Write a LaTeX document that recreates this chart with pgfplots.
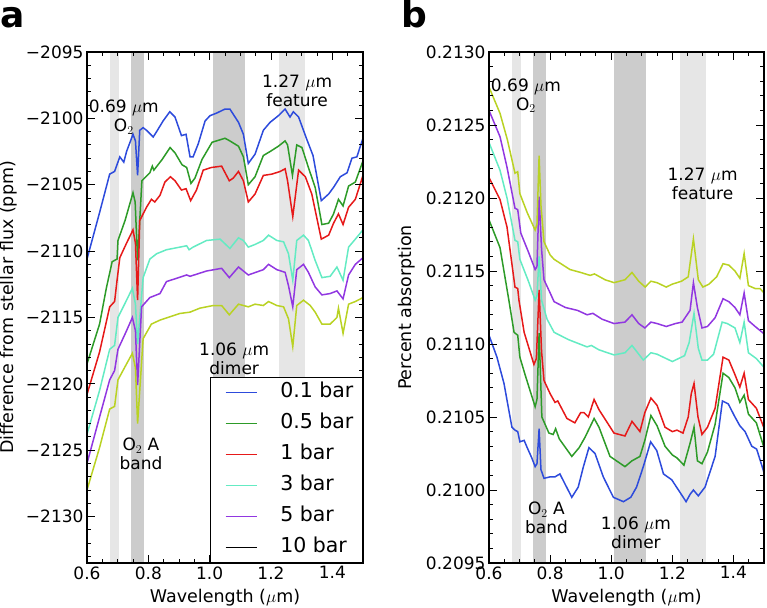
\documentclass[border=0pt]{standalone}
\usepackage{fontspec}
\setmainfont{DejaVu Sans}
\usepackage{pgfplots}
\pgfplotsset{compat=1.18}

\definecolor{bar01}{RGB}{45,75,220}
\definecolor{bar05}{RGB}{45,155,40}
\definecolor{bar1}{RGB}{230,25,25}
\definecolor{bar3}{RGB}{100,235,195}
\definecolor{bar5}{RGB}{145,55,225}
\definecolor{bar10}{RGB}{185,210,35}
\definecolor{bandlight}{RGB}{230,230,230}
\definecolor{banddark}{RGB}{204,204,204}

\newcommand\tickfont{\fontsize{17}{20}\selectfont}
\newcommand\labfont{\fontsize{17.5}{21}\selectfont}
\newcommand\annfont{\fontsize{17}{19}\selectfont}
\newcommand\legfont{\fontsize{20.5}{24}\selectfont}

\pgfplotsset{
  panel/.style={
    anchor=south west, scale only axis, height=511pt,
    xmin=0.6, xmax=1.5,
    xtick={0.6,0.8,1.0,1.2,1.4}, xticklabels={0.6,0.8,1.0,1.2,1.4},
    minor xtick={0.65,0.7,0.75,0.85,0.9,0.95,1.05,1.1,1.15,1.25,1.3,1.35,1.45},
    tick align=inside, major tick length=8pt, minor tick length=4pt,
    tick style={black, line width=0.9pt},
    axis line style={line width=1.2pt},
    tick label style={font=\tickfont},
    label style={font=\labfont},
    xlabel={Wavelength ($\mu$m)},
    xlabel style={at={(axis description cs:0.5,-0.077)}, anchor=base},
    axis on top,
    every axis plot/.append style={line width=1.5pt, no markers},
  },
}

\begin{document}
\begin{tikzpicture}
\useasboundingbox (0pt,0pt) rectangle (767pt,607pt);

\node[anchor=base west, inner sep=0pt, font=\fontsize{36}{40}\selectfont\bfseries] at (0pt,579pt) {a};
\node[anchor=base west, inner sep=0pt, font=\fontsize{36}{40}\selectfont\bfseries] at (401pt,579pt) {b};

% ---------------- panel a ----------------
\begin{axis}[panel,
  at={(87pt,44pt)}, width=276pt,
  ymin=-2133.5, ymax=-2095,
  ytick={-2130,-2125,-2120,-2115,-2110,-2105,-2100,-2095},
  yticklabels={−2130,−2125,−2120,−2115,−2110,−2105,−2100,−2095},
  minor ytick={-2133,-2132,...,-2096},
  ylabel={Difference from stellar flux (ppm)},
  ylabel style={at={(axis description cs:-0.283,0.5)}, anchor=center},
  legend style={at={(1,0)}, anchor=south east, draw=black, line width=1.2pt,
    inner xsep=9pt, inner ysep=6pt, row sep=13pt, column sep=23pt,
    nodes={font=\legfont, inner sep=0pt, text height=14pt, text depth=4pt}},
  legend cell align=left,
  legend image code/.code={\path (0pt,0pt); \draw[#1, line width=1.5pt] (5pt,0pt) -- (36pt,0pt);},
]
\fill[bandlight] (axis cs:0.675,-2140) rectangle (axis cs:0.705,-2090);
\fill[banddark] (axis cs:0.745,-2140) rectangle (axis cs:0.785,-2090);
\fill[banddark] (axis cs:1.01,-2140) rectangle (axis cs:1.115,-2090);
\fill[bandlight] (axis cs:1.225,-2140) rectangle (axis cs:1.31,-2090);

\addplot[bar01] coordinates {
(0.600,-2110.6) (0.641,-2107.1) (0.674,-2104.2) (0.690,-2104.0) (0.707,-2102.9)
(0.720,-2103.3) (0.729,-2102.5) (0.750,-2101.2) (0.758,-2101.7) (0.765,-2104.3)
(0.772,-2100.9) (0.783,-2100.7) (0.794,-2100.9) (0.816,-2101.4) (0.827,-2101.0)
(0.848,-2100.2) (0.870,-2099.5) (0.887,-2099.9) (0.908,-2101.3) (0.923,-2101.2)
(0.936,-2102.9) (0.946,-2102.9) (0.963,-2101.9) (0.985,-2100.2) (1.001,-2099.8)
(1.023,-2099.6) (1.050,-2099.3) (1.066,-2099.3) (1.094,-2100.3) (1.110,-2101.2)
(1.126,-2103.4) (1.148,-2102.7) (1.175,-2100.9) (1.197,-2100.3) (1.224,-2099.8)
(1.246,-2099.3) (1.262,-2099.9) (1.273,-2099.5) (1.290,-2099.9) (1.317,-2101.6)
(1.337,-2102.8) (1.364,-2106.2) (1.388,-2105.7) (1.404,-2105.2) (1.426,-2104.4)
(1.448,-2104.1) (1.464,-2103.0) (1.480,-2102.9) (1.500,-2101.5)};
\addlegendentry{0.1 bar}

\addplot[bar05] coordinates {
(0.600,-2118.5) (0.641,-2115.5) (0.663,-2112.8) (0.682,-2110.8) (0.698,-2110.6)
(0.701,-2109.2) (0.724,-2107.7) (0.750,-2105.6) (0.757,-2106.3) (0.765,-2110.7)
(0.779,-2104.7) (0.805,-2104.1) (0.813,-2103.6) (0.818,-2103.9) (0.845,-2103.1)
(0.871,-2102.2) (0.887,-2102.6) (0.910,-2103.5) (0.925,-2103.7) (0.939,-2104.9)
(0.952,-2104.5) (0.975,-2103.1) (1.008,-2101.8) (1.050,-2101.5) (1.066,-2101.7)
(1.094,-2102.1) (1.110,-2102.9) (1.126,-2105.0) (1.148,-2104.4) (1.175,-2102.8)
(1.197,-2102.5) (1.224,-2102.1) (1.246,-2101.7) (1.254,-2102.0) (1.270,-2104.3)
(1.284,-2102.0) (1.301,-2102.2) (1.322,-2103.7) (1.344,-2105.2) (1.366,-2108.0)
(1.388,-2107.9) (1.404,-2107.2) (1.420,-2106.1) (1.435,-2106.6) (1.453,-2105.1)
(1.475,-2104.8) (1.500,-2103.2)};
\addlegendentry{0.5 bar}

\addplot[bar1] coordinates {
(0.600,-2120.8) (0.641,-2117.6) (0.674,-2114.2) (0.690,-2113.8) (0.698,-2112.2)
(0.707,-2110.5) (0.729,-2109.4) (0.750,-2108.4) (0.758,-2109.4) (0.765,-2113.7)
(0.772,-2107.7) (0.794,-2106.7) (0.810,-2106.1) (0.821,-2106.3) (0.838,-2105.8)
(0.854,-2104.8) (0.872,-2104.4) (0.887,-2104.7) (0.908,-2105.4) (0.923,-2105.3)
(0.938,-2106.2) (0.957,-2105.4) (0.979,-2103.9) (1.006,-2103.7) (1.039,-2103.6)
(1.064,-2104.7) (1.077,-2104.5) (1.094,-2104.0) (1.110,-2104.7) (1.126,-2106.3)
(1.148,-2105.7) (1.175,-2104.3) (1.203,-2104.2) (1.230,-2104.0) (1.246,-2103.8)
(1.254,-2104.7) (1.271,-2107.4) (1.290,-2103.9) (1.312,-2104.4) (1.333,-2105.7)
(1.364,-2109.1) (1.388,-2108.8) (1.404,-2107.9) (1.420,-2107.2) (1.435,-2108.0)
(1.453,-2106.7) (1.475,-2106.1) (1.500,-2104.3)};
\addlegendentry{1 bar}

\addplot[bar3] coordinates {
(0.600,-2123.8) (0.641,-2120.5) (0.674,-2117.4) (0.690,-2117.1) (0.701,-2115.0)
(0.729,-2113.7) (0.748,-2112.8) (0.758,-2114.0) (0.765,-2117.0) (0.783,-2112.0)
(0.805,-2110.6) (0.827,-2110.2) (0.859,-2109.9) (0.903,-2109.7) (0.925,-2109.6)
(0.933,-2109.9) (0.946,-2109.7) (0.990,-2109.2) (1.034,-2109.1) (1.066,-2109.8)
(1.094,-2109.0) (1.110,-2109.2) (1.126,-2109.7) (1.148,-2109.5) (1.175,-2109.2)
(1.192,-2108.8) (1.219,-2109.2) (1.241,-2109.3) (1.257,-2110.2) (1.271,-2112.2)
(1.284,-2109.2) (1.306,-2108.8) (1.322,-2109.2) (1.344,-2110.7) (1.366,-2112.0)
(1.393,-2111.9) (1.415,-2111.2) (1.435,-2112.2) (1.453,-2109.7) (1.475,-2109.1)
(1.500,-2108.4)};
\addlegendentry{3 bar}

\addplot[bar5] coordinates {
(0.600,-2126.0) (0.641,-2122.5) (0.674,-2119.7) (0.690,-2119.0) (0.701,-2117.4)
(0.729,-2116.0) (0.748,-2115.0) (0.758,-2116.0) (0.765,-2120.1) (0.778,-2114.2)
(0.805,-2113.5) (0.838,-2113.2) (0.859,-2112.3) (0.925,-2111.8) (0.936,-2111.9)
(0.990,-2111.5) (1.039,-2111.3) (1.064,-2112.0) (1.094,-2111.2) (1.126,-2111.8)
(1.175,-2111.4) (1.192,-2111.0) (1.219,-2111.4) (1.246,-2111.6) (1.257,-2112.6)
(1.271,-2114.2) (1.284,-2111.4) (1.306,-2111.0) (1.322,-2111.6) (1.344,-2112.7)
(1.366,-2113.3) (1.393,-2113.2) (1.415,-2113.0) (1.435,-2113.6) (1.453,-2111.8)
(1.475,-2111.0) (1.500,-2110.5)};
\addlegendentry{5 bar}

\addplot[bar10, forget plot] coordinates {
(0.600,-2128.0) (0.641,-2124.8) (0.674,-2121.9) (0.690,-2121.7) (0.701,-2119.7)
(0.729,-2118.5) (0.748,-2117.7) (0.758,-2118.8) (0.765,-2123.0) (0.783,-2116.6)
(0.810,-2115.5) (0.838,-2115.2) (0.903,-2114.7) (0.936,-2114.6) (0.968,-2114.3)
(1.012,-2114.1) (1.039,-2114.1) (1.064,-2114.8) (1.094,-2114.0) (1.126,-2114.2)
(1.148,-2114.0) (1.175,-2114.1) (1.192,-2113.8) (1.219,-2114.1) (1.241,-2114.2)
(1.257,-2115.1) (1.271,-2117.2) (1.284,-2114.1) (1.306,-2113.7) (1.328,-2114.1)
(1.344,-2114.6) (1.366,-2115.5) (1.393,-2115.5) (1.415,-2115.0) (1.420,-2114.3)
(1.435,-2116.2) (1.453,-2114.0) (1.475,-2113.8) (1.500,-2113.5)};
\addlegendimage{black}
\addlegendentry{10 bar}

\node[font=\annfont, align=center] at (axis cs:0.720,-2099.9) {0.69 $\mu$m\\O$_2$};
\node[font=\annfont, align=center] at (axis cs:1.285,-2097.9) {1.27 $\mu$m\\feature};
\node[font=\annfont, align=center] at (axis cs:1.080,-2118.1) {1.06 $\mu$m\\dimer};
\node[font=\annfont, align=center] at (axis cs:0.776,-2125.3) {O$_2$ A\\band};
\end{axis}

% ---------------- panel b ----------------
\begin{axis}[panel,
  at={(489pt,44pt)}, width=275pt,
  ymin=0.2095, ymax=0.2130,
  ytick={0.2095,0.2100,0.2105,0.2110,0.2115,0.2120,0.2125,0.2130},
  yticklabels={0.2095,0.2100,0.2105,0.2110,0.2115,0.2120,0.2125,0.2130},
  minor ytick={0.2096,0.2097,0.2098,0.2099,0.2101,0.2102,0.2103,0.2104,0.2106,0.2107,0.2108,0.2109,0.2111,0.2112,0.2113,0.2114,0.2116,0.2117,0.2118,0.2119,0.2121,0.2122,0.2123,0.2124,0.2126,0.2127,0.2128,0.2129},
  ylabel={Percent absorption},
  ylabel style={at={(axis description cs:-0.298,0.5)}, anchor=center},
]
\fill[bandlight] (axis cs:0.675,0.2090) rectangle (axis cs:0.705,0.2135);
\fill[banddark] (axis cs:0.745,0.2090) rectangle (axis cs:0.785,0.2135);
\fill[banddark] (axis cs:1.01,0.2090) rectangle (axis cs:1.115,0.2135);
\fill[bandlight] (axis cs:1.225,0.2090) rectangle (axis cs:1.31,0.2135);

\addplot[bar01] coordinates {
(0.600,0.21106) (0.626,0.21091) (0.649,0.21073) (0.675,0.21043) (0.685,0.21041)
(0.694,0.21040) (0.701,0.21033) (0.715,0.21034) (0.725,0.21029) (0.740,0.21022)
(0.751,0.21016) (0.757,0.21018) (0.764,0.21042) (0.770,0.21014) (0.780,0.21008)
(0.800,0.21009) (0.816,0.21009) (0.832,0.21011) (0.849,0.21004) (0.871,0.20995)
(0.892,0.21002) (0.909,0.21016) (0.927,0.21029) (0.947,0.21025) (0.974,0.21009)
(1.007,0.20995) (1.040,0.20992) (1.064,0.20995) (1.083,0.21002) (1.105,0.21016)
(1.129,0.21033) (1.149,0.21027) (1.171,0.21011) (1.198,0.21007) (1.220,0.21000)
(1.245,0.20992) (1.258,0.20997) (1.269,0.21000) (1.285,0.20996) (1.307,0.21002)
(1.340,0.21023) (1.364,0.21061) (1.383,0.21059) (1.405,0.21050) (1.421,0.21044)
(1.438,0.21040) (1.460,0.21030) (1.476,0.21028) (1.500,0.21012)};

\addplot[bar05] coordinates {
(0.600,0.21185) (0.636,0.21166) (0.665,0.21130) (0.682,0.21108) (0.694,0.21106)
(0.701,0.21091) (0.718,0.21079) (0.751,0.21057) (0.757,0.21062) (0.764,0.211075)
(0.773,0.21050) (0.796,0.21039) (0.810,0.21038) (0.818,0.21042) (0.830,0.21035)
(0.871,0.21023) (0.895,0.21029) (0.914,0.21036) (0.944,0.21049) (0.960,0.21043)
(0.996,0.21023) (1.045,0.21016) (1.068,0.21020) (1.094,0.21023) (1.110,0.21034)
(1.130,0.21051) (1.150,0.21044) (1.176,0.21030) (1.200,0.21024) (1.215,0.21022)
(1.238,0.21017) (1.258,0.21032) (1.271,0.21043) (1.282,0.21020) (1.297,0.21018)
(1.315,0.21026) (1.340,0.21045) (1.366,0.21080) (1.385,0.21077) (1.405,0.21070)
(1.421,0.21060) (1.435,0.21065) (1.449,0.21052) (1.475,0.21046) (1.500,0.21029)};

\addplot[bar1] coordinates {
(0.600,0.21214) (0.636,0.21199) (0.659,0.21180) (0.685,0.21139) (0.694,0.21138)
(0.698,0.21130) (0.715,0.21108) (0.747,0.21086) (0.755,0.21090) (0.764,0.21137)
(0.772,0.21095) (0.780,0.21075) (0.800,0.21066) (0.816,0.21060) (0.825,0.21061)
(0.855,0.21049) (0.881,0.21046) (0.900,0.21053) (0.911,0.21053) (0.925,0.21050)
(0.944,0.21062) (0.960,0.21055) (1.009,0.21039) (1.045,0.21037) (1.068,0.21047)
(1.094,0.21040) (1.110,0.21053) (1.130,0.21063) (1.150,0.21058) (1.176,0.21043)
(1.200,0.21040) (1.215,0.21041) (1.235,0.21039) (1.252,0.21050) (1.262,0.21066)
(1.271,0.21073) (1.284,0.21050) (1.297,0.21038) (1.315,0.21043) (1.340,0.21056)
(1.366,0.21091) (1.385,0.21089) (1.405,0.21079) (1.421,0.210705) (1.435,0.21080)
(1.449,0.21062) (1.475,0.21056) (1.500,0.210425)};

\addplot[bar3] coordinates {
(0.600,0.21238) (0.636,0.21219) (0.659,0.21200) (0.685,0.21171) (0.694,0.21170)
(0.701,0.21158) (0.729,0.21143) (0.751,0.21130) (0.757,0.21133) (0.764,0.21160)
(0.772,0.21130) (0.790,0.21117) (0.813,0.21108) (0.860,0.21103) (0.921,0.21098)
(0.935,0.21099) (0.960,0.21096) (1.009,0.210925) (1.045,0.21094) (1.068,0.21099)
(1.105,0.21089) (1.130,0.21094) (1.150,0.21093) (1.200,0.21088) (1.240,0.21092)
(1.255,0.21101) (1.271,0.21121) (1.285,0.21097) (1.297,0.21089) (1.315,0.21089)
(1.335,0.21093) (1.363,0.21115) (1.380,0.21114) (1.405,0.21111) (1.421,0.21101)
(1.435,0.21115) (1.449,0.21094) (1.475,0.21090) (1.500,0.21084)};

\addplot[bar5] coordinates {
(0.600,0.21260) (0.636,0.21242) (0.659,0.21221) (0.685,0.21193) (0.694,0.21192)
(0.704,0.21176) (0.729,0.21163) (0.751,0.21151) (0.757,0.21153) (0.764,0.21201)
(0.772,0.21165) (0.780,0.21144) (0.800,0.21135) (0.813,0.21129) (0.850,0.21125)
(0.890,0.21123) (0.921,0.21120) (0.940,0.21121) (0.970,0.21117) (1.009,0.21114)
(1.045,0.21115) (1.068,0.21120) (1.090,0.21114) (1.110,0.21111) (1.130,0.21115)
(1.150,0.21114) (1.180,0.21112) (1.210,0.21114) (1.232,0.21115) (1.258,0.21123)
(1.269,0.21142) (1.282,0.21125) (1.297,0.21111) (1.315,0.21112) (1.340,0.21118)
(1.366,0.21131) (1.385,0.21129) (1.405,0.21125) (1.421,0.21120) (1.435,0.21135)
(1.449,0.21116) (1.471,0.21112) (1.500,0.21107)};

\addplot[bar10] coordinates {
(0.600,0.21276) (0.636,0.21258) (0.660,0.21240) (0.685,0.21217) (0.694,0.21218)
(0.701,0.21203) (0.725,0.21190) (0.751,0.21178) (0.757,0.21182) (0.764,0.21229)
(0.770,0.21195) (0.780,0.21170) (0.800,0.21161) (0.813,0.21158) (0.865,0.21151)
(0.900,0.21149) (0.931,0.21147) (0.945,0.21148) (0.980,0.21144) (1.009,0.21142)
(1.045,0.21144) (1.068,0.21149) (1.090,0.21143) (1.111,0.21139) (1.130,0.21143)
(1.150,0.21142) (1.180,0.21139) (1.200,0.21141) (1.230,0.21143) (1.252,0.21146)
(1.269,0.21172) (1.285,0.21144) (1.300,0.21139) (1.320,0.21141) (1.345,0.21146)
(1.366,0.21155) (1.385,0.21154) (1.405,0.21150) (1.421,0.21145) (1.435,0.21162)
(1.449,0.21140) (1.471,0.21138) (1.487,0.21138) (1.500,0.21135)};

\node[font=\annfont, align=center] at (axis cs:0.721,0.21270) {0.69 $\mu$m\\O$_2$};
\node[font=\annfont, align=center] at (axis cs:1.299,0.21210) {1.27 $\mu$m\\feature};
\node[font=\annfont, align=center] at (axis cs:1.081,0.20971) {1.06 $\mu$m\\dimer};
\node[font=\annfont, align=center] at (axis cs:0.788,0.20981) {O$_2$ A\\band};
\end{axis}
\end{tikzpicture}
\end{document}
